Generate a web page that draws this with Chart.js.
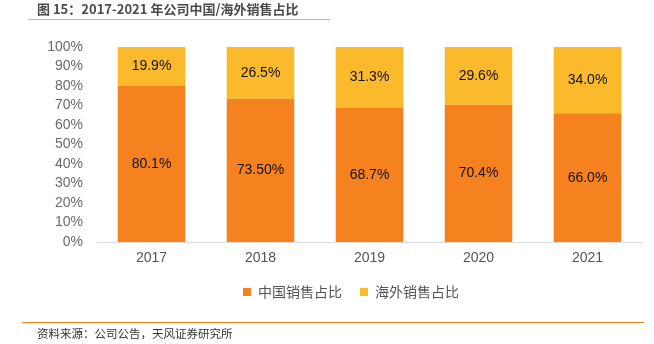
<!DOCTYPE html>
<html><head><meta charset="utf-8">
<script src="https://cdn.jsdelivr.net/npm/chart.js@4"></script>
<style>
html,body{margin:0;padding:0;background:#fff;width:654px;height:344px;overflow:hidden;position:relative;}
#title{position:absolute;left:37px;top:0px;font:bold 13px "Noto Sans CJK SC","Liberation Sans",sans-serif;color:#4a4a4a;line-height:17px;}
#tline{position:absolute;left:28px;top:19px;width:302px;height:1px;background:#F7A868;}
#fline{position:absolute;left:22px;top:322px;width:622px;height:1px;background:#F5821F;}
#foot{position:absolute;left:37px;top:326px;font:11.5px "Noto Sans CJK SC",sans-serif;color:#333;line-height:15px;}
#wrap{position:absolute;left:0;top:0;width:654px;height:344px;}
</style></head><body>
<div id="wrap"><canvas id="c" width="654" height="344"></canvas></div>
<div id="title">图 15：2017-2021 年公司中国/海外销售占比</div>
<div id="tline"></div>
<div id="fline"></div>
<div id="foot">资料来源：公司公告，天风证券研究所</div>
<script>
const categories = ['2017','2018','2019','2020','2021'];
const domesticShare = [80.1, 73.5, 68.7, 70.4, 66.0];
const overseasShare = [19.9, 26.5, 31.3, 29.6, 34.0];
const domesticLabels = ['80.1%','73.50%','68.7%','70.4%','66.0%'];
const overseasLabels = ['19.9%','26.5%','31.3%','29.6%','34.0%'];
const seriesNames = ['中国销售占比','海外销售占比'];
const labelSets = [domesticLabels, overseasLabels];

const barLabels = {
  id:'barLabels',
  afterLayout(chart){
    if (chart.legend){ chart.legend.left = 60; }
  },
  afterDatasetsDraw(chart){
    const ctx = chart.ctx;
    ctx.save();
    ctx.font = '14px "Liberation Sans", Arial, sans-serif';
    ctx.fillStyle = '#111';
    ctx.textAlign = 'center';
    ctx.textBaseline = 'middle';
    chart.data.datasets.forEach((ds,i)=>{
      const meta = chart.getDatasetMeta(i);
      meta.data.forEach((bar,j)=>{
        const y = (bar.y + bar.base)/2;
        ctx.fillText(labelSets[i][j], bar.x, y);
      });
    });
    ctx.restore();
  }
};

new Chart(document.getElementById('c'), {
  type:'bar',
  data:{
    labels:categories,
    datasets:[
      {label:seriesNames[0], data:domesticShare, backgroundColor:'#F5821F', borderWidth:0},
      {label:seriesNames[1], data:overseasShare, backgroundColor:'#FBBA2B', borderWidth:0}
    ]
  },
  options:{
    responsive:false, animation:false,
    layout:{padding:{top:47,bottom:35,left:0,right:12}},
    datasets:{bar:{categoryPercentage:0.62,barPercentage:1}},
    plugins:{
      legend:{position:'bottom',labels:{boxWidth:8,boxHeight:8,padding:18,color:'#555',font:{size:14,family:'"Noto Sans CJK SC", sans-serif'}}},
      tooltip:{enabled:false}
    },
    scales:{
      x:{stacked:true,grid:{display:false},border:{color:'#dcdcdc',width:1},
         afterFit:s=>{s.height=25;},
         ticks:{color:'#555',font:{size:14,family:'"Liberation Sans", Arial, sans-serif'},padding:0}},
      y:{stacked:true,min:0,max:100,grid:{display:false},border:{display:false},
         afterFit:s=>{s.width=97;},
         ticks:{stepSize:10,autoSkip:false,color:'#6a6a6a',padding:6,font:{size:14,family:'"Liberation Sans", Arial, sans-serif'},callback:v=>v+'%'}}
    }
  },
  plugins:[barLabels]
});
</script>
</body></html>
